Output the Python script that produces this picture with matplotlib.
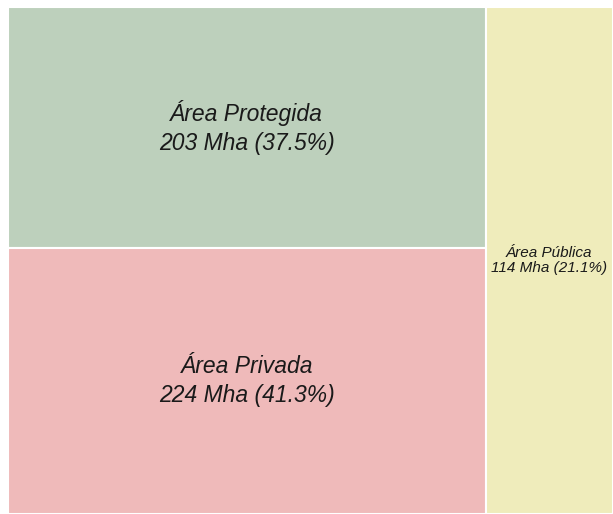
import matplotlib
matplotlib.use('Agg')
import matplotlib.pyplot as plt
from matplotlib.patches import Rectangle

# dados (Mha)
categorias = ['Área Protegida', 'Área Privada', 'Área Pública']
valores = [203, 224, 114]
percentuais = ['37.5%', '41.3%', '21.1%']
cores = ['#bdd0bc', '#efbaba', '#efecbb']

total = sum(valores)

fig = plt.figure(figsize=(6.13, 5.14), dpi=100)
ax = fig.add_axes([8 / 613, 0, 605 / 613, 507 / 514])
ax.set_xlim(0, 1)
ax.set_ylim(0, 1)
ax.axis('off')

# coluna esquerda: protegida (topo) + privada (base); coluna direita: pública
largura_esq = (valores[0] + valores[1]) / total
h_top = valores[0] / (valores[0] + valores[1])
retangulos = [
    (0, 1 - h_top, largura_esq, h_top),
    (0, 0, largura_esq, 1 - h_top),
    (largura_esq, 0, 1 - largura_esq, 1),
]
tamanhos = [16.5, 16.5, 11]
espacos = [1.3, 1.3, 1.12]

for (x, y, w, h), nome, v, p, c, fs, ls in zip(retangulos, categorias, valores, percentuais,
                                               cores, tamanhos, espacos):
    ax.add_patch(Rectangle((x, y), w, h, facecolor=c, edgecolor='white', linewidth=1.5))
    ax.text(x + w / 2, y + h / 2, f'{nome}\n{v} Mha ({p})', ha='center', va='center',
            fontsize=fs, fontstyle='italic', family='Liberation Sans',
            color='#1a1a1a', linespacing=ls)

fig.savefig('out.png', dpi=100)
